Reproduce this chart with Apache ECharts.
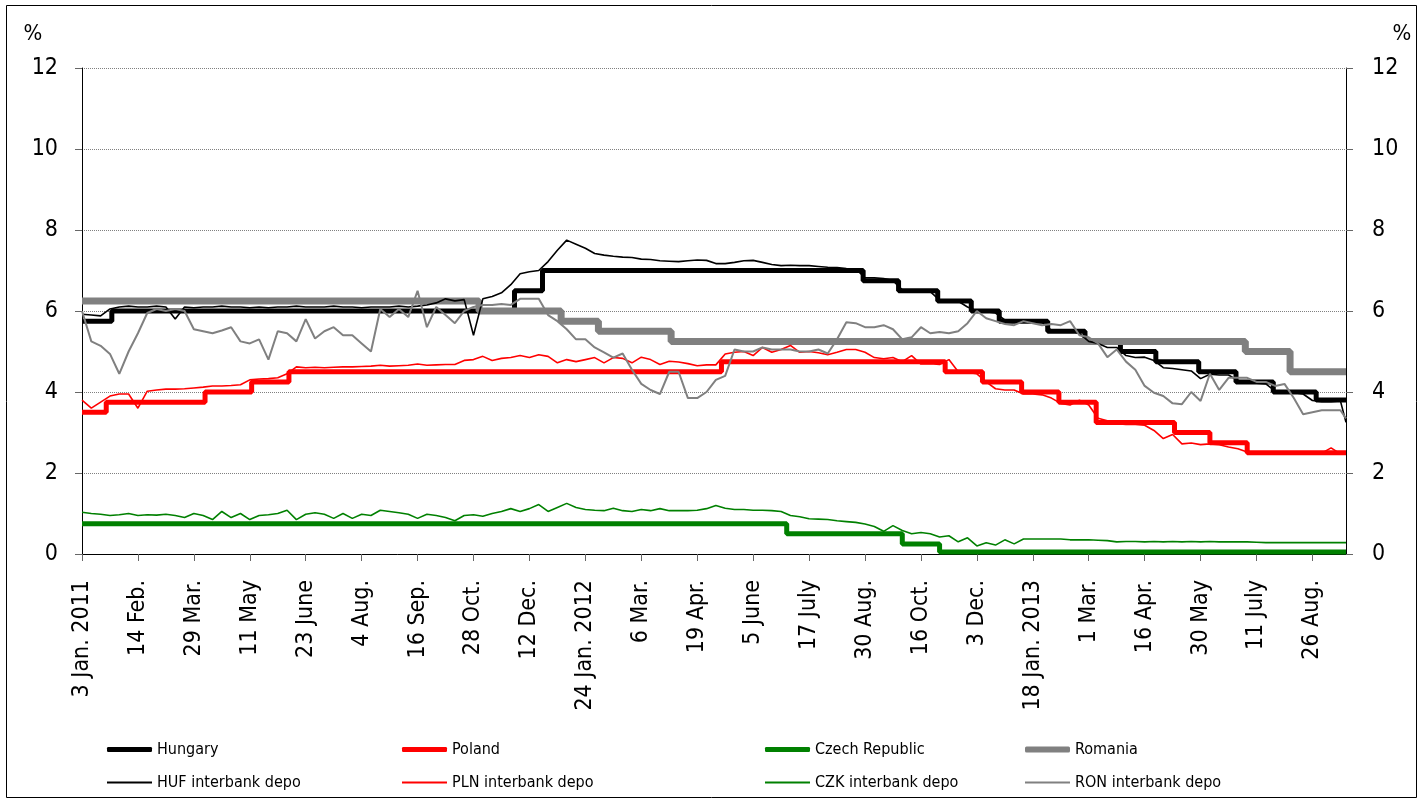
<!DOCTYPE html>
<html>
<head>
<meta charset="utf-8">
<script src="https://cdn.jsdelivr.net/npm/echarts@6/dist/echarts.min.js"></script>
<style>
html,body{margin:0;padding:0;background:#fff;}
#chart{width:1422px;height:800px;}
</style>
</head>
<body>
<div id="chart"></div>
<script>
// ---------- data ----------
const FIRST_DAY = '2011-01-03';
const DAY_COUNT = 679;
const holidays = ['2011-03-15','2011-04-25','2011-06-13','2011-08-15','2011-11-01','2011-12-26',
  '2012-03-15','2012-04-09','2012-04-30','2012-05-01','2012-05-28','2012-08-15','2012-08-20',
  '2012-09-03','2012-09-28','2012-10-15','2012-10-22','2012-10-23','2012-11-01','2012-11-02',
  '2012-12-24','2012-12-25','2012-12-26','2013-01-01','2013-03-15','2013-04-01','2013-05-01',
  '2013-05-20','2013-08-19','2013-08-20'];

const tickLabels = ['3 Jan. 2011','14 Feb.','29 Mar.','11 May','23 June','4 Aug.','16 Sep.','28 Oct.',
  '12 Dec.','24 Jan. 2012','6 Mar.','19 Apr.','5 June','17 July','30 Aug.','16 Oct.','3 Dec.',
  '18 Jan. 2013','1 Mar.','16 Apr.','30 May','11 July','26 Aug.'];
const yTicks = [0, 2, 4, 6, 8, 10, 12];

// policy rates: [date of change, new rate]
const hungaryRate = [['2011-01-03',5.75],['2011-01-25',6.00],['2011-11-30',6.50],['2011-12-21',7.00],
  ['2012-08-29',6.75],['2012-09-26',6.50],['2012-10-31',6.25],['2012-11-28',6.00],['2012-12-19',5.75],
  ['2013-01-30',5.50],['2013-02-27',5.25],['2013-03-27',5.00],['2013-04-24',4.75],['2013-05-29',4.50],
  ['2013-06-26',4.25],['2013-07-24',4.00],['2013-08-28',3.80]];
const polandRate = [['2011-01-03',3.50],['2011-01-20',3.75],['2011-04-06',4.00],['2011-05-12',4.25],
  ['2011-06-09',4.50],['2012-05-10',4.75],['2012-11-08',4.50],['2012-12-06',4.25],['2013-01-10',4.00],
  ['2013-02-07',3.75],['2013-03-07',3.25],['2013-05-09',3.00],['2013-06-06',2.75],['2013-07-04',2.50]];
const czechRate = [['2011-01-03',0.75],['2012-06-29',0.50],['2012-10-01',0.25],['2012-11-02',0.05]];
const romaniaRate = [['2011-01-03',6.25],['2011-11-03',6.00],['2012-01-05',5.75],['2012-02-02',5.50],
  ['2012-03-29',5.25],['2013-07-03',5.00],['2013-08-06',4.50]];

// interbank deposit rates, one reading every 5 business days (last = final day)
const SAMPLE_STEP = 5;
const hufDepo = [5.92,5.9,5.88,6.05,6.1,6.12,6.1,6.1,6.12,6.1,
  5.8,6.1,6.08,6.1,6.1,6.12,6.1,6.1,6.08,6.1,
  6.08,6.1,6.1,6.12,6.1,6.1,6.1,6.12,6.1,6.1,
  6.08,6.1,6.1,6.1,6.12,6.1,6.12,6.15,6.2,6.3,
  6.25,6.28,5.4,6.3,6.36,6.45,6.65,6.92,6.97,7.0,
  7.22,7.5,7.75,7.65,7.55,7.42,7.38,7.35,7.33,7.32,
  7.28,7.27,7.24,7.23,7.22,7.24,7.26,7.25,7.17,7.17,
  7.2,7.24,7.25,7.2,7.15,7.12,7.13,7.12,7.12,7.1,
  7.08,7.07,7.05,7.04,6.82,6.82,6.8,6.75,6.52,6.5,
  6.5,6.48,6.27,6.25,6.24,6.1,6.0,5.98,5.95,5.78,
  5.75,5.74,5.74,5.72,5.52,5.5,5.5,5.45,5.25,5.2,
  5.1,5.1,4.9,4.85,4.86,4.78,4.6,4.58,4.55,4.52,
  4.33,4.44,4.42,4.42,4.28,4.25,4.22,4.2,4.02,4.0,
  3.98,3.95,3.79,3.76,3.76,3.78,3.25];
const plnDepo = [3.8,3.6,3.75,3.9,3.95,3.95,3.6,4.02,4.05,4.07,
  4.07,4.08,4.1,4.12,4.15,4.15,4.16,4.18,4.3,4.32,
  4.33,4.35,4.45,4.62,4.6,4.61,4.6,4.61,4.62,4.62,
  4.63,4.64,4.66,4.64,4.65,4.66,4.69,4.66,4.67,4.68,
  4.68,4.78,4.8,4.88,4.78,4.83,4.85,4.9,4.85,4.92,
  4.88,4.72,4.8,4.75,4.8,4.85,4.72,4.85,4.83,4.72,
  4.86,4.8,4.68,4.76,4.74,4.7,4.65,4.67,4.67,4.94,
  4.98,5.0,4.9,5.1,4.98,5.05,5.15,4.98,5.0,4.97,
  4.92,4.98,5.05,5.05,4.98,4.85,4.82,4.85,4.75,4.9,
  4.69,4.7,4.68,4.8,4.5,4.48,4.45,4.25,4.08,4.05,
  4.05,3.95,3.95,3.93,3.85,3.72,3.68,3.8,3.68,3.35,
  3.29,3.22,3.2,3.2,3.18,3.05,2.85,2.95,2.72,2.74,
  2.7,2.72,2.7,2.64,2.6,2.52,2.5,2.5,2.5,2.49,
  2.5,2.49,2.48,2.49,2.62,2.47,2.48];
const czkDepo = [1.03,1.0,0.98,0.95,0.97,1.0,0.95,0.97,0.96,0.98,
  0.95,0.9,1.0,0.95,0.85,1.05,0.9,1.0,0.85,0.95,
  0.97,1.0,1.08,0.85,0.98,1.02,0.98,0.88,1.0,0.88,
  0.98,0.95,1.08,1.05,1.02,0.98,0.88,0.98,0.95,0.9,
  0.82,0.95,0.97,0.93,1.0,1.05,1.12,1.05,1.12,1.22,
  1.05,1.15,1.25,1.15,1.1,1.08,1.07,1.13,1.07,1.05,
  1.1,1.07,1.12,1.07,1.07,1.07,1.08,1.12,1.2,1.13,
  1.1,1.1,1.08,1.08,1.07,1.05,0.95,0.92,0.87,0.86,
  0.85,0.82,0.8,0.78,0.74,0.68,0.56,0.7,0.58,0.5,
  0.53,0.5,0.42,0.45,0.3,0.4,0.2,0.28,0.22,0.35,
  0.25,0.37,0.37,0.37,0.37,0.37,0.35,0.35,0.35,0.34,
  0.33,0.3,0.31,0.31,0.3,0.31,0.3,0.31,0.3,0.31,
  0.3,0.31,0.3,0.3,0.3,0.3,0.29,0.28,0.28,0.28,
  0.28,0.28,0.28,0.28,0.28,0.28,0.28];
const ronDepo = [6.0,5.25,5.14,4.94,4.45,5.0,5.45,5.95,6.05,6.0,
  6.05,6.0,5.55,5.5,5.45,5.52,5.6,5.25,5.2,5.3,
  4.8,5.5,5.45,5.25,5.8,5.32,5.5,5.6,5.4,5.4,
  5.2,5.0,6.05,5.85,6.05,5.85,6.5,5.6,6.1,5.9,
  5.7,6.0,6.1,6.15,6.15,6.17,6.15,6.3,6.3,6.3,
  5.9,5.75,5.55,5.3,5.3,5.1,4.98,4.85,4.95,4.55,
  4.2,4.05,3.95,4.5,4.5,3.85,3.85,4.0,4.3,4.4,
  5.05,5.0,5.0,5.1,5.05,5.05,5.05,5.0,5.0,5.05,
  4.95,5.3,5.72,5.7,5.6,5.6,5.65,5.55,5.3,5.35,
  5.6,5.45,5.48,5.45,5.5,5.7,6.0,5.82,5.75,5.68,
  5.65,5.75,5.7,5.65,5.68,5.65,5.75,5.4,5.35,5.2,
  4.86,5.05,4.75,4.55,4.15,3.98,3.9,3.72,3.7,4.0,
  3.78,4.45,4.05,4.35,4.35,4.35,4.25,4.25,4.15,4.2,
  3.85,3.45,3.5,3.55,3.55,3.55,3.35];

// ---------- build ----------
function buildDays() {
  const out = [];
  let t = Date.parse(FIRST_DAY + 'T00:00:00Z');
  while (out.length < DAY_COUNT) {
    const d = new Date(t);
    const wd = d.getUTCDay();
    const s = d.toISOString().slice(0, 10);
    if (wd !== 0 && wd !== 6 && holidays.indexOf(s) < 0) out.push(s);
    t += 86400000;
  }
  return out;
}
const days = buildDays();
function dayIndex(s) {
  for (let i = 0; i < days.length; i++) if (days[i] >= s) return i;
  return days.length - 1;
}
function stepData(rates) {
  const d = rates.map(([s, v]) => [dayIndex(s), v]);
  d.push([days.length - 1, rates[rates.length - 1][1]]);
  return d;
}
function sampleData(vals) {
  return vals.map((v, i) => [Math.min(i * SAMPLE_STEP, days.length - 1), v]);
}

const FONT = "'DejaVu Sans Condensed', 'DejaVu Sans', sans-serif";

function policy(name, rates, color, width) {
  return { name, type: 'line', step: 'end', data: stepData(rates), symbol: 'none',
    lineStyle: { color, width }, itemStyle: { color }, silent: true, z: 2 };
}
function depo(name, vals, color, width) {
  return { name, type: 'line', data: sampleData(vals), symbol: 'none',
    lineStyle: { color, width }, itemStyle: { color }, silent: true, z: 3 };
}

const series = [
  policy('Hungary', hungaryRate, '#000000', 5),
  policy('Poland', polandRate, '#ff0000', 5),
  policy('Czech Republic', czechRate, '#008000', 5),
  policy('Romania', romaniaRate, '#808080', 7),
  depo('HUF interbank depo', hufDepo, '#000000', 1.6),
  depo('PLN interbank depo', plnDepo, '#ff0000', 1.6),
  depo('CZK interbank depo', czkDepo, '#008000', 1.6),
  depo('RON interbank depo', ronDepo, '#808080', 2)
];

// legend item: name, left, top, icon thickness
const legendPos = [
  ['Hungary', 107, 740, 5], ['Poland', 402, 740, 5], ['Czech Republic', 765, 740, 5], ['Romania', 1025, 740, 6],
  ['HUF interbank depo', 107, 773, 2], ['PLN interbank depo', 402, 773, 2], ['CZK interbank depo', 765, 773, 2], ['RON interbank depo', 1025, 773, 2]
];
const legends = legendPos.map(([n, x, y, h]) => ({
  data: [n], left: x, top: y, padding: 0, itemWidth: 45, itemHeight: h, selectedMode: false,
  icon: h > 3 ? 'roundRect' : 'rect',
  textStyle: { fontSize: 16, fontFamily: FONT, color: '#000', lineHeight: 19 }
}));

const yAxisBase = {
  type: 'value', min: yTicks[0], max: yTicks[yTicks.length - 1], interval: yTicks[1] - yTicks[0],
  axisLine: { show: true, lineStyle: { color: '#000', width: 1 } },
  axisTick: { show: true, length: 7, lineStyle: { color: '#666' } },
  axisLabel: { fontSize: 23, fontFamily: FONT, color: '#000', margin: 24 }
};

const option = {
  animation: false,
  backgroundColor: '#fff',
  grid: { left: 82, right: 76, top: 68, bottom: 246, containLabel: false },
  legend: legends,
  xAxis: {
    type: 'category', data: days, boundaryGap: false,
    axisLine: { lineStyle: { color: '#000', width: 1 } },
    axisTick: { interval: 29, length: 7, lineStyle: { color: '#666' } },
    axisLabel: { interval: 29, rotate: 90, fontSize: 23, fontFamily: FONT, color: '#000', margin: 26,
      formatter: (v, i) => (i % 30 === 0 && tickLabels[i / 30]) ? tickLabels[i / 30] : '' },
    splitLine: { show: false }
  },
  yAxis: [
    Object.assign({}, yAxisBase, { position: 'left',
      splitLine: { show: true, lineStyle: { color: '#808080', type: 'dotted', width: 1 } } }),
    Object.assign({}, yAxisBase, { position: 'right', splitLine: { show: false },
      axisLabel: { fontSize: 23, fontFamily: FONT, color: '#000', margin: 26 } })
  ],
  graphic: [
    { type: 'rect', shape: { x: 6.5, y: 5.5, width: 1410, height: 792 }, style: { fill: 'none', stroke: '#000', lineWidth: 1 }, silent: true },
    { type: 'text', x: 33, y: 34, style: { text: '%', fontSize: 22, fontFamily: FONT, fill: '#000', textAlign: 'center', textVerticalAlign: 'middle' } },
    { type: 'text', x: 1402, y: 34, style: { text: '%', fontSize: 22, fontFamily: FONT, fill: '#000', textAlign: 'center', textVerticalAlign: 'middle' } }
  ],
  series
};

const chart = echarts.init(document.getElementById('chart'), null, { renderer: 'canvas' });
chart.setOption(option);
</script>
</body>
</html>
